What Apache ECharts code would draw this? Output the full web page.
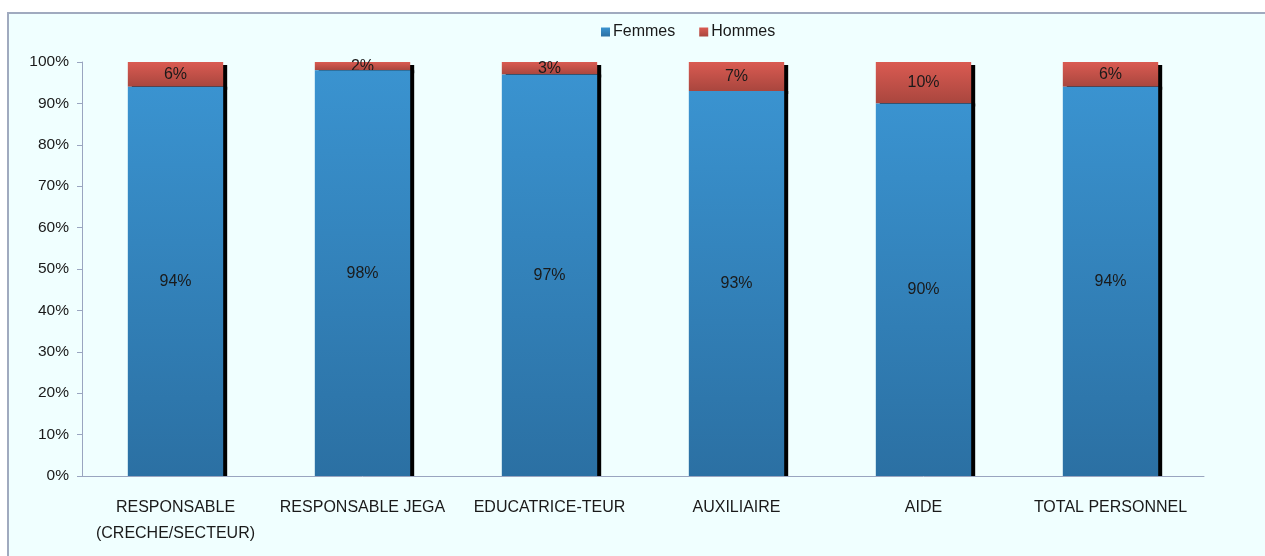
<!DOCTYPE html>
<html><head><meta charset="utf-8">
<script src="https://cdn.jsdelivr.net/npm/echarts@6/dist/echarts.min.js"></script>
<style>html,body{margin:0;padding:0;background:#fff}#c{width:1265px;height:556px}</style>
</head><body><div id="c"></div>
<script>
const categories = ['RESPONSABLE\n(CRECHE/SECTEUR)', 'RESPONSABLE JEGA', 'EDUCATRICE-TEUR', 'AUXILIAIRE', 'AIDE', 'TOTAL PERSONNEL'];
const femmes = [94, 98, 97, 93, 90, 94];
const hommes = [6, 2, 3, 7, 10, 6];
const seriesNames = ['Femmes', 'Hommes'];

const FONT = "'Liberation Sans Narrow', 'Liberation Sans', Arial, sans-serif";
const chart = echarts.init(document.getElementById('c'));
chart.setOption({
  animation: false,
  backgroundColor: '#ffffff',
  graphic: [{
    type: 'rect', silent: true, z: -10,
    shape: { x: 8, y: 13, width: 1270, height: 560 },
    style: { fill: '#F0FFFF', stroke: '#a0aabf', lineWidth: 2 }
  }],
  legend: {
    data: seriesNames, top: 19, left: 596,
    itemWidth: 9, itemHeight: 9, itemGap: 24,
    icon: 'rect',
    textStyle: { fontFamily: FONT, fontSize: 16, color: '#1a1a1a', padding: [0, 0, 0, -2] }
  },
  grid: { left: 82, right: 61, top: 62, bottom: 80, containLabel: false },
  xAxis: {
    type: 'category', data: categories,
    axisLine: { lineStyle: { color: '#9aa5c0', width: 1 } },
    axisTick: { show: false },
    axisLabel: { fontFamily: FONT, fontSize: 16, color: '#1a1a1a', margin: 19, lineHeight: 26, interval: 0 }
  },
  yAxis: {
    type: 'value', min: 0, max: 100, interval: 10,
    axisLine: { show: true, lineStyle: { color: '#9aa5c0', width: 1 } },
    axisTick: { show: true, length: 5, lineStyle: { color: '#9aa5c0' } },
    splitLine: { show: false },
    axisLabel: { formatter: '{value}%', fontFamily: FONT, fontSize: 15.5, color: '#1a1a1a', margin: 13 }
  },
  series: [{
    name: seriesNames[0], type: 'bar', stack: 's', data: femmes, barCategoryGap: '49%', z: 3,
    itemStyle: {
      color: new echarts.graphic.LinearGradient(0, 0, 0, 1, [{ offset: 0, color: '#3a93d0' }, { offset: 1, color: '#2b70a3' }]),
      shadowColor: '#000', shadowBlur: 0, shadowOffsetX: 4, shadowOffsetY: 0
    },
    label: { show: true, position: 'inside', formatter: '{c}%', fontFamily: FONT, fontSize: 16, color: '#1a1a1a' }
  }, {
    name: seriesNames[1], type: 'bar', stack: 's', data: hommes, z: 2,
    itemStyle: {
      color: new echarts.graphic.LinearGradient(0, 0, 0, 1, [{ offset: 0, color: '#da5b52' }, { offset: 1, color: '#a9463e' }]),
      shadowColor: '#000', shadowBlur: 0, shadowOffsetX: 4, shadowOffsetY: 3
    },
    label: { show: true, position: 'inside', formatter: '{c}%', fontFamily: FONT, fontSize: 16, color: '#1a1a1a' }
  }]
});
</script></body></html>
